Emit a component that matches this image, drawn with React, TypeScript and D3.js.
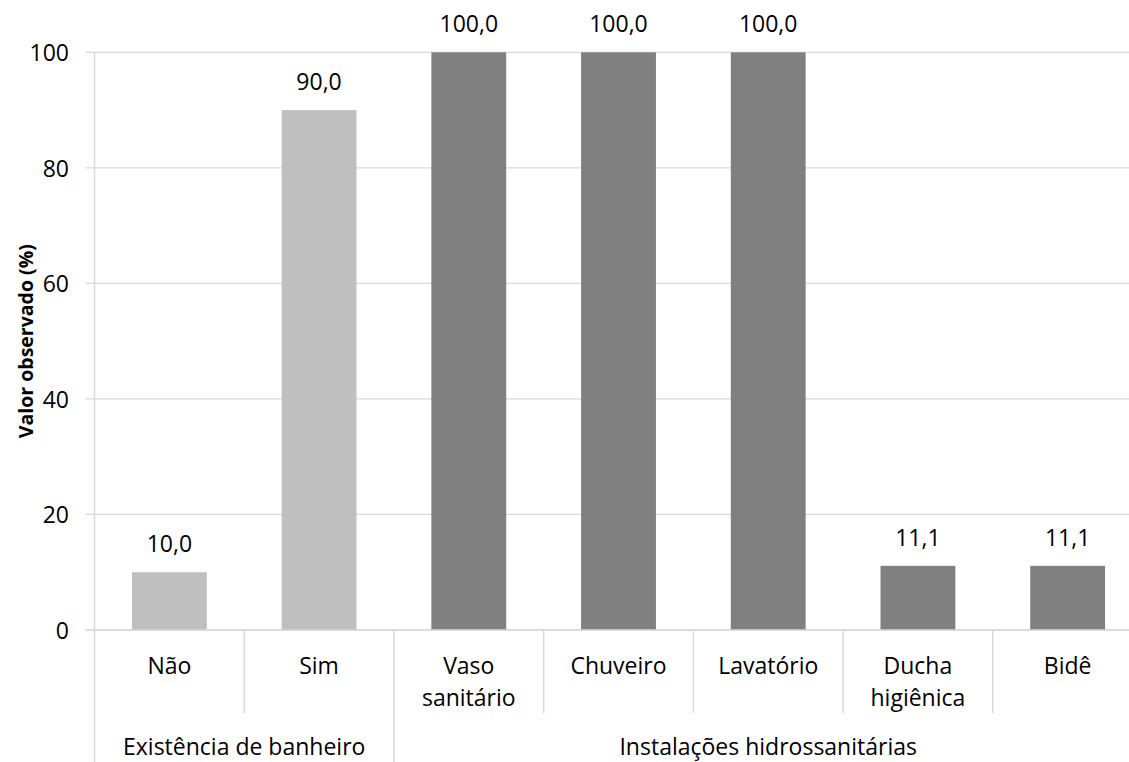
import React from "react";
import * as d3 from "d3";

const categories = ["Não", "Sim", "Vaso sanitário", "Chuveiro", "Lavatório", "Ducha higiênica", "Bidê"];
const categoryLines = [["Não"], ["Sim"], ["Vaso", "sanitário"], ["Chuveiro"], ["Lavatório"], ["Ducha", "higiênica"], ["Bidê"]];
const values = [10.0, 90.0, 100.0, 100.0, 100.0, 11.1, 11.1];
const groupOf = [0, 0, 1, 1, 1, 1, 1];
const groups = ["Existência de banheiro", "Instalações hidrossanitárias"];
const groupColors = ["#BFBFBF", "#808080"];
const yTicks = [0, 20, 40, 60, 80, 100];

const W = 1129;
const H = 762;
const left = 94.5;
const right = 1142.5;
const top = 52.3;
const bottom = 630;
const FONT = "Open Sans, sans-serif";
const FS = 23;

export default function App() {
  const x = d3.scaleBand<string>().domain(categories).range([left, right]).paddingInner(0.5).paddingOuter(0.25);
  const y = d3.scaleLinear().domain([0, 100]).range([bottom, top]);
  const step = x.step();
  const catEdge = (i: number) => left + i * step;
  const fmt = (v: number) => v.toFixed(1).replace(".", ",");

  const groupRanges = groups.map((g, gi) => {
    const idx = categories.map((_, i) => i).filter((i) => groupOf[i] === gi);
    return { name: g, start: catEdge(idx[0]), end: catEdge(idx[idx.length - 1] + 1) };
  });

  return (
    <svg width={W} height={H} style={{ position: "absolute", left: 0, top: 0, background: "#fff" }} fontFamily={FONT}>
      {yTicks.map((t) => (
        <g key={t}>
          <line x1={left - 9} x2={W} y1={y(t)} y2={y(t)} stroke="#D9D9D9" strokeWidth={1.3} />
          <text x={69} y={y(t)} textAnchor="end" dominantBaseline="central" fontSize={FS} fill="#000">{t}</text>
        </g>
      ))}
      <line x1={left} x2={left} y1={top} y2={bottom} stroke="#D9D9D9" strokeWidth={1.5} />
      {categories.map((c, i) => (
        <g key={c}>
          <rect x={x(c)} y={y(values[i])} width={x.bandwidth()} height={y(0) - y(values[i])} fill={groupColors[groupOf[i]]} />
          <text x={(x(c) as number) + x.bandwidth() / 2} y={y(values[i]) - 29} textAnchor="middle" dominantBaseline="central" fontSize={FS} fill="#000">{fmt(values[i])}</text>
          {categoryLines[i].map((ln, li) => (
            <text key={li} x={(x(c) as number) + x.bandwidth() / 2} y={665 + li * 32} textAnchor="middle" dominantBaseline="central" fontSize={FS} fill="#000">{ln}</text>
          ))}
        </g>
      ))}
      <line x1={left - 9} x2={W} y1={bottom} y2={bottom} stroke="#D9D9D9" strokeWidth={1.5} />
      {categories.map((c, i) => {
        if (i === 0) return null;
        const isGroupEdge = groupOf[i] !== groupOf[i - 1];
        return <line key={c} x1={catEdge(i)} x2={catEdge(i)} y1={bottom} y2={isGroupEdge ? H : 713} stroke="#D9D9D9" strokeWidth={1.5} />;
      })}
      <line x1={left} x2={left} y1={bottom} y2={H} stroke="#D9D9D9" strokeWidth={1.5} />
      {groupRanges.map((g) => (
        <text key={g.name} x={(g.start + g.end) / 2} y={746} textAnchor="middle" dominantBaseline="central" fontSize={FS} fill="#000">{g.name}</text>
      ))}
      <text transform={`translate(25,${(top + bottom) / 2}) rotate(-90)`} textAnchor="middle" dominantBaseline="central" fontSize={19.5} fontWeight="bold" fill="#000">Valor observado (%)</text>
    </svg>
  );
}
